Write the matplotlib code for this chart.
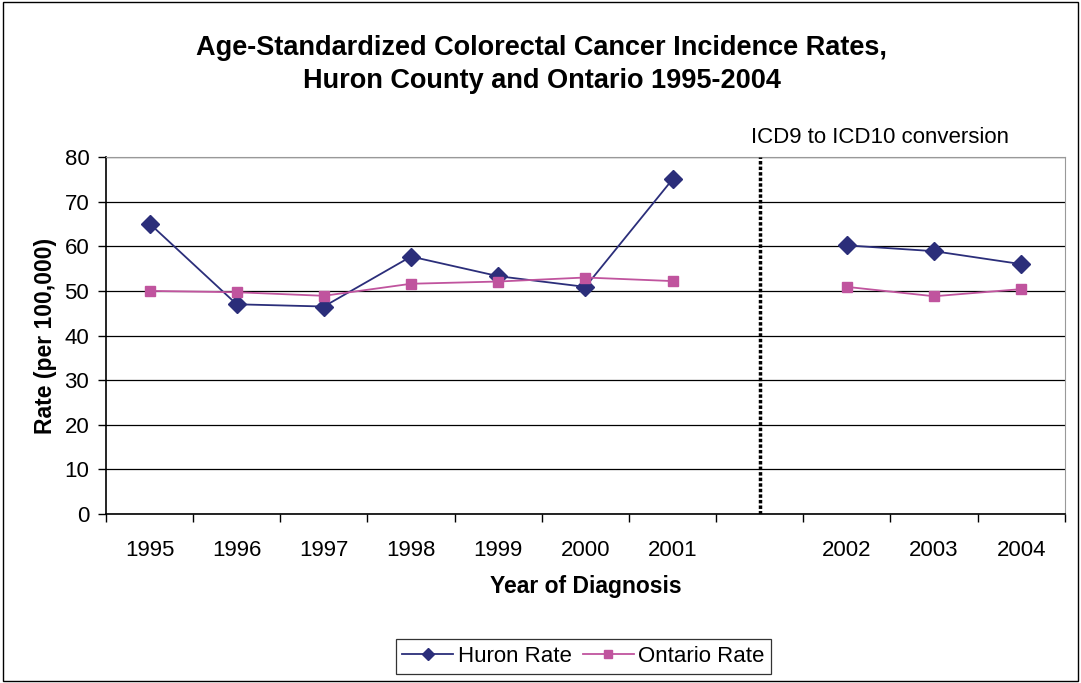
import numpy as np
import matplotlib.pyplot as plt
from matplotlib.patches import Rectangle

plt.rcParams['font.family'] = ['Liberation Sans', 'DejaVu Sans']

# categories (blank slot marks the ICD9 -> ICD10 break)
years = ['1995', '1996', '1997', '1998', '1999', '2000', '2001', '', '2002', '2003', '2004']
huron = [65.1, 47.0, 46.5, 57.7, 53.3, 50.9, 75.0, np.nan, 60.2, 58.9, 56.0]
ontario = [50.0, 49.7, 48.9, 51.6, 52.1, 53.0, 52.2, np.nan, 50.9, 48.8, 50.4]
break_pos = 7
yticks = [0, 10, 20, 30, 40, 50, 60, 70, 80]

fig = plt.figure(figsize=(10.81, 6.83), dpi=100)
ax = fig.add_axes([0.098, 0.2474, 0.887, 0.5227])

x = np.arange(len(years))
ax.plot(x, huron, color='#2B2E7A', lw=1.3, marker='D', ms=9, label='Huron Rate', zorder=3)
ax.plot(x, ontario, color='#C0549E', lw=1.3, marker='s', ms=7.5, label='Ontario Rate', zorder=3)

ax.axvline(break_pos, ymin=0, ymax=1, color='black', lw=2.5, ls=(0, (1, 0.6)), zorder=4)
ax.text(break_pos - 0.1, 82, 'ICD9 to ICD10 conversion', fontsize=16, ha='left', va='bottom')

ax.set_xlim(-0.5, len(years) - 0.5)
ax.set_ylim(0, 80)
ax.set_yticks(yticks)
ax.yaxis.grid(True, color='black', lw=0.9)
ax.set_axisbelow(True)

# category labels centred, tick marks between categories
ax.set_xticks(x)
ax.set_xticklabels(years)
ax.tick_params(axis='x', length=0, pad=19, labelsize=16)
ax.set_xticks(np.arange(-0.5, len(years)), minor=True)
ax.tick_params(axis='x', which='minor', length=6, width=1, direction='out')
ax.tick_params(axis='y', length=6, width=1, direction='out', labelsize=16, pad=6)

for s in ['top', 'right']:
    ax.spines[s].set_color('#999999')
for s in ['left', 'bottom']:
    ax.spines[s].set_color('black')
    ax.spines[s].set_linewidth(1.2)

ax.set_ylabel('Rate (per 100,000)', fontsize=16.5, fontweight='bold', labelpad=5.5)
ax.set_xlabel('Year of Diagnosis', fontsize=16.5, fontweight='bold', labelpad=10)

fig.text(0.501, 0.906, 'Age-Standardized Colorectal Cancer Incidence Rates,\nHuron County and Ontario 1995-2004',
         ha='center', va='center', fontsize=19.5, fontweight='bold', linespacing=1.35)

leg = ax.legend(loc='center', bbox_to_anchor=(0.498, -0.399), ncol=2, fontsize=16,
                frameon=True, fancybox=False, edgecolor='black', handlelength=2.3,
                handletextpad=0.2, columnspacing=0.5, borderpad=0.3, markerscale=0.7)
leg.get_frame().set_linewidth(0.9)

fig.patches.append(Rectangle((0.003, 0.003), 0.994, 0.994, transform=fig.transFigure,
                             fill=False, edgecolor='black', lw=1))

fig.savefig('out.png', dpi=100)
